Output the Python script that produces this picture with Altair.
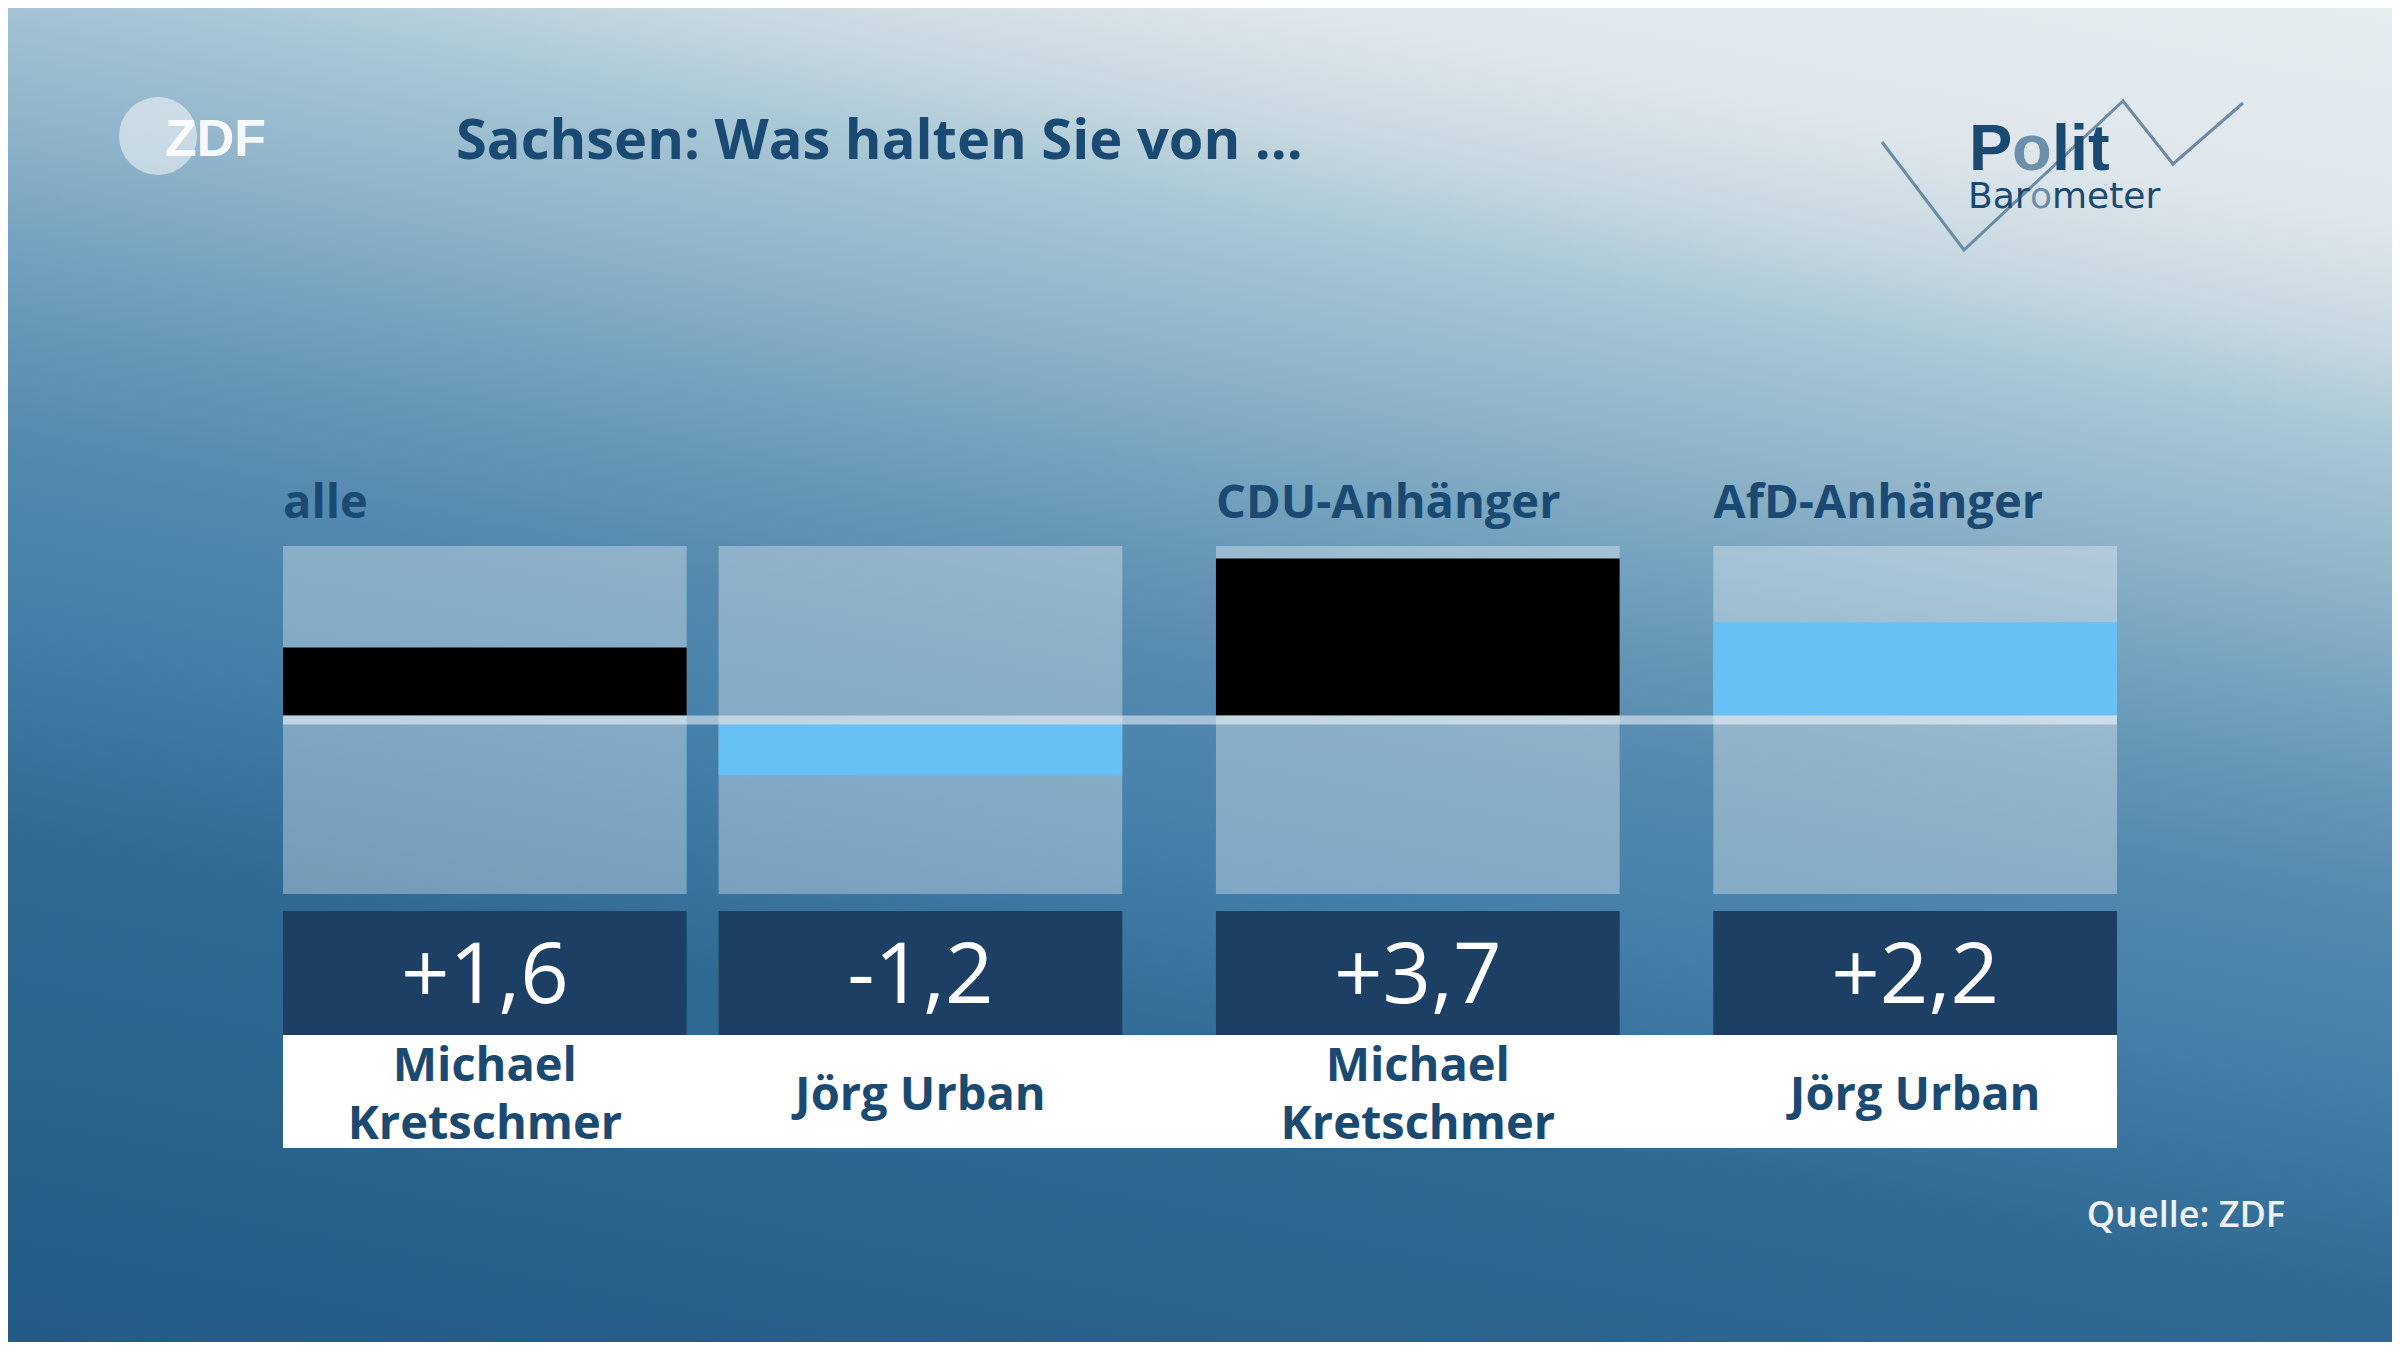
import altair as alt
import pandas as pd

# ---------------- data ----------------
groups = ["alle", "alle", "CDU-Anhänger", "AfD-Anhänger"]
candidates = ["Michael Kretschmer", "Jörg Urban", "Michael Kretschmer", "Jörg Urban"]
name_labels = ["Michael\nKretschmer", "Jörg Urban", "Michael\nKretschmer", "Jörg Urban"]
parties = ["CDU", "AfD", "CDU", "AfD"]
values = [1.6, -1.2, 3.7, 2.2]
value_labels = ["+1,6", "-1,2", "+3,7", "+2,2"]
title_text = "Sachsen: Was halten Sie von ..."
source_text = "Quelle: ZDF"
party_domain = ["CDU", "AfD"]
party_colors = ["#000000", "#67c1f5"]

# ---------------- layout (style) ----------------
W, H = 2384, 1334
PANEL_W = 1.0
GAP_IN = 0.079
GAP_OUT = 0.232
PANEL_LIMIT = 4.1
X_RANGE = [275, 2109]
Y_RANGE = [886, 538]
LINE_W = 9
HALF = LINE_W / 2
NAME_LH = 58

BOLD_FONT = "Open Sans"
DARK = "#1a4a72"

starts = []
pos = 0.0
for i, g in enumerate(groups):
    if i > 0:
        pos += PANEL_W + (GAP_IN if g == groups[i - 1] else GAP_OUT)
    starts.append(pos)
total = starts[-1] + PANEL_W

df = pd.DataFrame({
    "group": groups,
    "candidate": candidates,
    "name": name_labels,
    "party": parties,
    "value": values,
    "label": value_labels,
})
df["start"] = starts
df["end"] = df["start"] + PANEL_W
df["center"] = df["start"] + PANEL_W / 2
df["top"] = PANEL_LIMIT
df["bottom"] = -PANEL_LIMIT
df["base"] = 0.0
df["first"] = [i == 0 or groups[i] != groups[i - 1] for i in range(len(groups))]
df["lines"] = [n.count("\n") + 1 for n in name_labels]

strip = pd.DataFrame({"lo": [min(starts)], "hi": [total], "base": [0.0]})
one = pd.DataFrame({"a": [0]})

xs = alt.Scale(domain=[0, total], range=X_RANGE)
ys = alt.Scale(domain=[-PANEL_LIMIT, PANEL_LIMIT], range=Y_RANGE)
cs = alt.Scale(domain=party_domain, range=party_colors)

# ---------------- background ----------------
stops = [
    (0.00, "#e6edf1"), (0.12, "#dfe7ec"), (0.19, "#c6d7e0"), (0.24, "#a8c8d7"),
    (0.32, "#91b4ca"), (0.38, "#78a5c0"), (0.44, "#6496b6"), (0.50, "#5589ae"),
    (0.60, "#447fa9"), (0.72, "#306a93"), (1.00, "#245a85"),
]
bg = alt.Chart(one).mark_rect(
    fill=alt.Gradient(
        gradient="linear", x1=0.609, y1=-0.137, x2=0.188, y2=1.066,
        stops=[alt.GradientStop(offset=o, color=c) for o, c in stops],
    )
).encode(x=alt.value(0), x2=alt.value(W), y=alt.value(0), y2=alt.value(H))

# ZDF logo
zdf_circle = alt.Chart(one).mark_circle(
    size=6100, color="white", opacity=0.5
).encode(x=alt.value(150), y=alt.value(128))
zdf_text = alt.Chart(one).mark_text(
    text="ZDF", font="Liberation Sans", fontWeight="bold",
    fontSize=52, color="white", opacity=0.92, align="left", baseline="alphabetic"
).encode(x=alt.value(157), y=alt.value(148))

# Politbarometer logo
logo_pts = pd.DataFrame({
    "lx": [1874, 1956, 2115, 2165, 2235],
    "ly": [134, 242, 93, 156, 95],
    "k": [0, 1, 2, 3, 4],
})
logo_line = alt.Chart(logo_pts).mark_line(
    color="#6c8ca4", strokeWidth=3
).encode(
    x=alt.X("lx:Q", scale=None), y=alt.Y("ly:Q", scale=None), order="k:O"
)

def piece(txt, x, y, size, color, font, weight):
    return alt.Chart(one).mark_text(
        text=txt, font=font, fontWeight=weight, fontSize=size, color=color,
        align="left", baseline="alphabetic"
    ).encode(x=alt.value(x), y=alt.value(y))

LIGHT = "#6d8fa9"
p1 = piece("P", 1961, 162, 65, DARK, "Liberation Sans", "bold")
p2 = piece("o", 2004, 162, 65, LIGHT, "Liberation Sans", "bold")
p3 = piece("lit", 2044, 162, 65, DARK, "Liberation Sans", "bold")
b1 = piece("Bar", 1960, 200, 36, DARK, "DejaVu Sans", "normal")
b2 = piece("o", 2022, 200, 36, LIGHT, "DejaVu Sans", "normal")
b3 = piece("meter", 2044, 200, 36, DARK, "DejaVu Sans", "normal")

title = alt.Chart(one).mark_text(
    text=title_text, font=BOLD_FONT, fontWeight="bold", fontSize=56,
    color=DARK, align="left", baseline="alphabetic"
).encode(x=alt.value(448), y=alt.value(151))

# ---------------- chart body ----------------
base = alt.Chart(df)

group_labels = base.transform_filter("datum.first").mark_text(
    font=BOLD_FONT, fontWeight="bold", fontSize=47, color=DARK,
    align="left", baseline="alphabetic"
).encode(x=alt.X("start:Q", scale=xs), y=alt.value(510), text="group:N")

panels = base.mark_rect(color="white", opacity=0.33).encode(
    x=alt.X("start:Q", scale=xs), x2="end:Q",
    y=alt.Y("top:Q", scale=ys), y2="bottom:Q",
)

bars_pos = base.transform_filter("datum.value > 0").mark_rect(
    yOffset=-HALF, y2Offset=-HALF
).encode(
    x=alt.X("start:Q", scale=xs), x2="end:Q",
    y=alt.Y("value:Q", scale=ys), y2="base:Q",
    color=alt.Color("party:N", scale=cs, legend=None),
)
bars_neg = base.transform_filter("datum.value < 0").mark_rect(
    yOffset=HALF, y2Offset=HALF
).encode(
    x=alt.X("start:Q", scale=xs), x2="end:Q",
    y=alt.Y("value:Q", scale=ys), y2="base:Q",
    color=alt.Color("party:N", scale=cs, legend=None),
)

zero_line = alt.Chart(strip).mark_rule(
    color="white", opacity=0.5, strokeWidth=LINE_W
).encode(
    x=alt.X("lo:Q", scale=xs), x2="hi:Q", y=alt.Y("base:Q", scale=ys)
)

value_boxes = base.mark_rect(color="#1c3f63").encode(
    x=alt.X("start:Q", scale=xs), x2="end:Q",
    y=alt.value(903), y2=alt.value(1027),
)
value_text = base.mark_text(
    font=BOLD_FONT, fontSize=85, color="white", align="center", baseline="middle"
).encode(x=alt.X("center:Q", scale=xs), y=alt.value(969), text="label:N")

white_strip = alt.Chart(strip).mark_rect(color="white").encode(
    x=alt.X("lo:Q", scale=xs), x2="hi:Q", y=alt.value(1027), y2=alt.value(1140)
)

NAME_Y = 1088
def name_layer(n):
    return base.transform_filter(f"datum.lines == {n}").mark_text(
        font=BOLD_FONT, fontWeight="bold", fontSize=47, color=DARK,
        align="center", baseline="middle", lineBreak="\n", lineHeight=NAME_LH
    ).encode(
        x=alt.X("center:Q", scale=xs),
        y=alt.value(NAME_Y - (n - 1) * NAME_LH / 2),
        text="name:N",
    )

names1 = name_layer(1)
names2 = name_layer(2)

source = alt.Chart(one).mark_text(
    text=source_text, font=BOLD_FONT, fontWeight=600, fontSize=36,
    color="#eef2f8", align="right", baseline="alphabetic"
).encode(x=alt.value(2277), y=alt.value(1219))

chart = alt.layer(
    bg, zdf_circle, zdf_text, logo_line, p1, p2, p3, b1, b2, b3, title,
    group_labels, panels, bars_pos, bars_neg, zero_line,
    value_boxes, value_text, white_strip, names1, names2, source,
).resolve_scale(x="independent", y="independent", color="independent").properties(
    width=W, height=H, padding=0,
    autosize=alt.AutoSizeParams(type="none"),
).configure_view(stroke=None).configure(background="#245a85")

chart.save("out.html", embed_options={"renderer": "svg", "actions": False})
